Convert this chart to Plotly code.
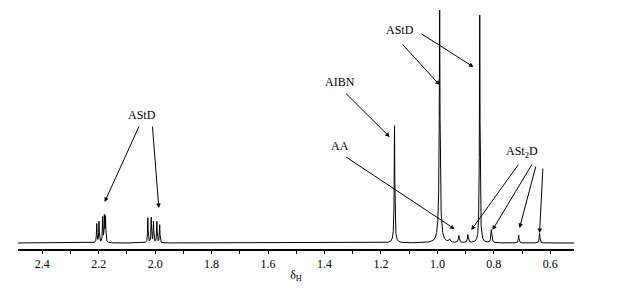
import numpy as np
import plotly.graph_objects as go

# Peak list (chemical shift, height, half-width)
peak_shift = [2.207, 2.199, 2.186, 2.180, 2.176,
              2.026, 2.014, 2.006, 1.994, 1.984,
              1.152, 1.152, 0.992, 0.992, 0.957, 0.924, 0.892,
              0.850, 0.850, 0.809, 0.712, 0.638]
peak_height = [19, 21, 25, 26, 25,
               25, 25, 21, 21, 18,
               112, 6, 200, 45, 3, 7, 8,
               215, 14, 13, 8, 10]
peak_width = [0.0012, 0.0012, 0.0012, 0.0012, 0.0012,
              0.0012, 0.0012, 0.0012, 0.0012, 0.0012,
              0.0012, 0.006, 0.0012, 0.005, 0.003, 0.002, 0.002,
              0.0012, 0.004, 0.002, 0.0015, 0.0015]

x_ticks = [2.4, 2.2, 2.0, 1.8, 1.6, 1.4, 1.2, 1.0, 0.8, 0.6]

# label text, text position (ppm, intensity)
labels = ["AStD", "AIBN", "AA", "AStD", "ASt<sub>2</sub>D"]
label_x = [2.046, 1.346, 1.346, 1.131, 0.700]
label_y = [128, 161, 97, 213, 91]

# arrows: tail (ppm, int) -> head (ppm, int)
arrow_x0 = [2.055, 2.010, 1.329, 1.329, 1.128, 1.061, 0.709, 0.662, 0.650, 0.626]
arrow_y0 = [118, 118, 151, 87, 200, 210, 80, 80, 78, 76]
arrow_x1 = [2.179, 1.987, 1.169, 0.939, 0.992, 0.872, 0.880, 0.805, 0.709, 0.638]
arrow_y1 = [41, 35, 106, 14, 158, 176, 13, 13, 15, 10]

x = np.linspace(2.49, 0.515, 9000)
y = np.zeros_like(x)
for c, h, w in zip(peak_shift, peak_height, peak_width):
    y += h * w**2 / (w**2 + (x - c) ** 2)

fig = go.Figure()
fig.add_trace(go.Scatter(x=x, y=y, mode="lines",
                         line=dict(color="black", width=1), hoverinfo="skip"))

font = dict(family="Liberation Serif, Times New Roman, serif", size=12, color="black")
for t, tx, ty in zip(labels, label_x, label_y):
    fig.add_annotation(x=tx, y=ty, text=t, showarrow=False, font=font,
                       xref="x", yref="y")
for x0, y0, x1, y1 in zip(arrow_x0, arrow_y0, arrow_x1, arrow_y1):
    fig.add_annotation(x=x1, y=y1, ax=x0, ay=y0, axref="x", ayref="y",
                       xref="x", yref="y", text="", showarrow=True,
                       arrowhead=2, arrowsize=0.9, arrowwidth=1,
                       arrowcolor="black")

fig.update_layout(
    width=616, height=286,
    margin=dict(l=10, r=50, t=2, b=45),
    paper_bgcolor="white", plot_bgcolor="white",
    showlegend=False,
    xaxis=dict(range=[2.486, 0.516], tickvals=x_ticks,
               ticktext=[f"{v:.1f}" for v in x_ticks],
               showline=True, linecolor="black", linewidth=1.5,
               ticks="outside", ticklen=3, tickcolor="black",
               minor=dict(dtick=0.1, tick0=0, ticks="outside", ticklen=3,
                          tickcolor="black"),
               showgrid=False, zeroline=False, automargin=False,
               tickfont=font,
               title=dict(text="δ<sub>H</sub>", font=font, standoff=0)),
    yaxis=dict(range=[-6, 233], visible=False, showgrid=False, zeroline=False),
)

fig.write_html("out.html")
